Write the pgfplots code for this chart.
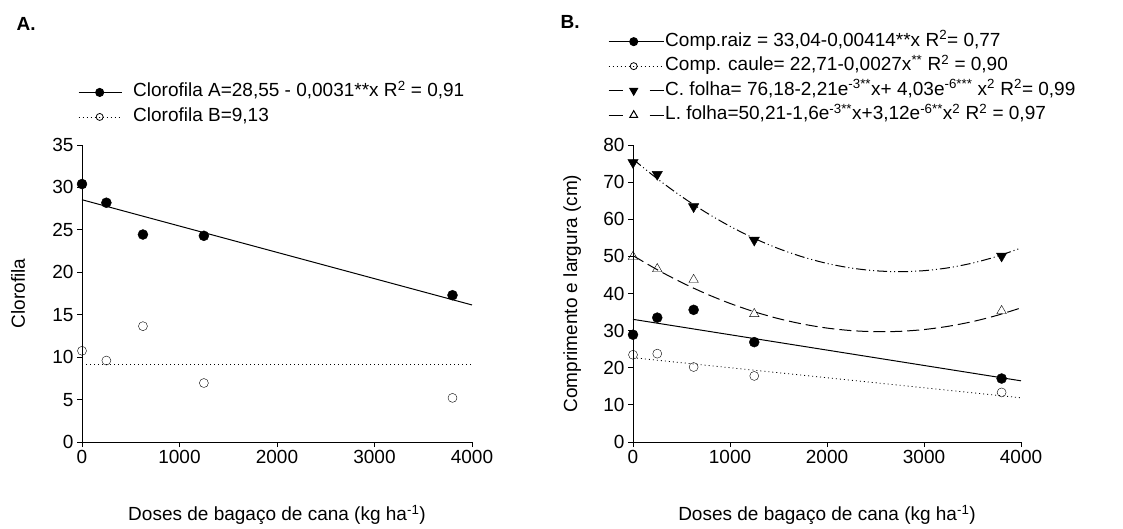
\documentclass[border=0pt]{standalone}
\usepackage{fontspec}
\setmainfont{Liberation Sans}
\usepackage{pgfplots}
\pgfplotsset{compat=1.18}
\newcommand{\sz}{\fontsize{19}{23}\selectfont}
\pgfplotsset{
  panel/.style={
    scale only axis, height=297pt,
    axis lines*=left, tick align=outside, major tick length=5pt,
    tick style={black, line width=0.8pt}, axis line style={line width=0.8pt},
    xmin=0, xmax=4000, xtick={0,1000,...,4000}, ymin=0,
    /pgf/number format/assume math mode=true,
    /pgf/number format/1000 sep={},
    ticklabel style={font=\sz},
    label style={font=\sz},
    xlabel={Doses de bagaço de cana (kg ha\textsuperscript{-1})},
    xlabel style={at={(axis description cs:0.5,-0.246)}, anchor=center},
    clip=false,
    legend cell align=left,
    legend style={draw=none, fill=none, font=\sz, anchor=north west,
      row sep=3.5pt, inner sep=0pt,
      nodes={inner sep=1pt, text height=14pt, text depth=5pt}},
  }
}
\begin{document}
\begin{tikzpicture}[x=1pt,y=1pt]
\path (0,0) rectangle (1123,524);
\node[anchor=west, font=\sz\bfseries] at (13,500) {A.};
\node[anchor=west, font=\sz\bfseries] at (557,502) {B.};

% Panel A
\begin{axis}[panel, at={(82pt,82pt)}, anchor=south west, width=390pt,
  ymax=35, ytick={0,5,...,35},
  ylabel={Clorofila},
  ylabel style={at={(axis description cs:-0.164,0.5)}, anchor=center},
  legend style={at={(axis description cs:-0.0103,1.213)},
    /tikz/every odd column/.append style={column sep=10pt}},
  legend image code/.code={\draw[mark repeat=2,mark phase=2,#1] plot coordinates {(0pt,0pt) (21pt,0pt) (43pt,0pt)};},
]
\addplot[black, line width=1pt, forget plot] coordinates {(0,28.55) (4000,16.15)};
\addplot[black, line width=0.8pt, dash pattern=on 1pt off 3pt, forget plot] coordinates {(0,9.13) (4000,9.13)};
\addplot[only marks, mark=*, mark size=5pt, black, forget plot] coordinates {
  (0,30.4) (250,28.2) (625,24.45) (1250,24.3) (3800,17.3)};
\addplot[only marks, mark=o, mark size=4.5pt, black, mark options={fill=white}, forget plot] coordinates {
  (0,10.75) (250,9.6) (625,13.65) (1250,6.95) (3800,5.2)};
\addlegendimage{black, line width=1pt, mark=*, mark size=4pt}
\addlegendentry{Clorofila A=28,55 - 0,0031**x R\textsuperscript{2} = 0,91}
\addlegendimage{black, line width=0.8pt, dash pattern=on 1pt off 3pt, mark=o, mark size=3.5pt, mark options={solid}}
\addlegendentry{Clorofila B=9,13}
\end{axis}

% Panel B
\begin{axis}[panel, at={(633pt,82pt)}, anchor=south west, width=388pt,
  ymax=80, ytick={0,10,...,80},
  ylabel={Comprimento e largura (cm)},
  ylabel style={at={(axis description cs:-0.157,0.5)}, anchor=center},
  legend style={at={(axis description cs:-0.0644,1.384)}},
  legend image code/.code={\draw[mark repeat=2,mark phase=2,#1] plot coordinates {(0pt,0pt) (25pt,0pt) (55pt,0pt)};},
]
% Comp. raiz
\addplot[black, line width=1pt, forget plot] coordinates {(0,33.04) (4000,16.48)};
% Comp. caule
\addplot[black, line width=0.8pt, dash pattern=on 1pt off 3pt, forget plot] coordinates {(0,22.71) (4000,11.91)};
% C. folha
\addplot[black, line width=1pt, dash pattern=on 10pt off 3pt on 1pt off 3pt on 1pt off 3pt, smooth, forget plot] coordinates {
  (0,76.18) (250,70.91) (500,66.14) (750,61.87) (1000,58.11) (1250,54.85)
  (1500,52.10) (1750,49.85) (2000,48.10) (2250,46.86) (2500,46.12) (2750,45.88)
  (3000,46.15) (3250,46.92) (3500,48.20) (3750,49.98) (4000,52.26)};
% L. folha
\addplot[black, line width=1pt, dash pattern=on 12pt off 5pt, smooth, forget plot] coordinates {
  (0,50.21) (250,46.41) (500,42.99) (750,39.97) (1000,37.33) (1250,35.09)
  (1500,33.23) (1750,31.77) (2000,30.69) (2250,30.01) (2500,29.71) (2750,29.81)
  (3000,30.29) (3250,31.17) (3500,32.43) (3750,34.09) (4000,36.13)};
\addplot[only marks, mark=*, mark size=5pt, black, forget plot] coordinates {
  (0,28.9) (250,33.5) (625,35.6) (1250,26.9) (3800,17.1)};
\addplot[only marks, mark=o, mark size=4.5pt, black, mark options={fill=white}, forget plot] coordinates {
  (0,23.5) (250,23.8) (625,20.2) (1250,17.8) (3800,13.35)};
\addplot[only marks, mark=triangle*, mark size=6pt, black, mark options={rotate=180}, forget plot] coordinates {
  (0,75.3) (250,72.1) (625,63.4) (1250,54.4) (3800,50.1)};
\addplot[only marks, mark=triangle, mark size=5.5pt, black, mark options={fill=white}, forget plot] coordinates {
  (0,49.9) (250,46.6) (625,43.7) (1250,34.5) (3800,35.3)};
\addlegendimage{black, line width=1pt, mark=*, mark size=4pt}
\addlegendentry{Comp.raiz = 33,04-0,00414**x R\textsuperscript{2}= 0,77}
\addlegendimage{black, line width=0.8pt, dash pattern=on 1pt off 3pt, mark=o, mark size=3.5pt, mark options={solid}}
\addlegendentry{Comp. caule= 22,71-0,0027x\textsuperscript{**} R\textsuperscript{2} = 0,90}
\addlegendimage{black, line width=1pt, dash pattern=on 14pt off 27pt, mark=triangle*, mark size=4.5pt, mark options={solid, rotate=180}}
\addlegendentry{C. folha= 76,18-2,21e\textsuperscript{-3**}x+ 4,03e\textsuperscript{-6***} x\textsuperscript{2} R\textsuperscript{2}= 0,99}
\addlegendimage{black, line width=1pt, dash pattern=on 14pt off 27pt, mark=triangle, mark size=4.5pt, mark options={solid}}
\addlegendentry{L. folha=50,21-1,6e\textsuperscript{-3**}x+3,12e\textsuperscript{-6**}x\textsuperscript{2} R\textsuperscript{2} = 0,97}
\end{axis}
\end{tikzpicture}
\end{document}
